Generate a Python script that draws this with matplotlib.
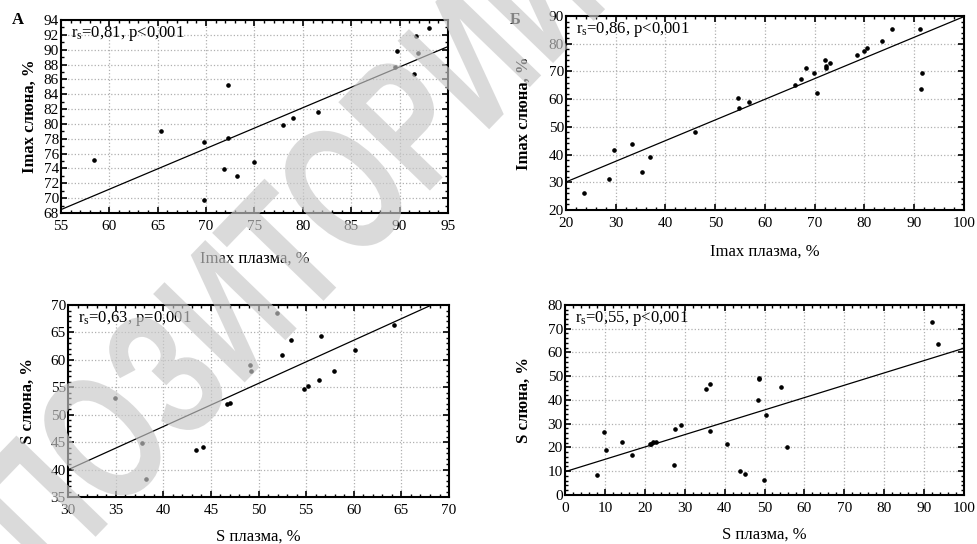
import matplotlib
matplotlib.use("Agg")
import matplotlib.pyplot as plt
from matplotlib.ticker import MultipleLocator
from matplotlib.textpath import TextPath
from matplotlib.patches import PathPatch
from matplotlib.font_manager import FontProperties
from matplotlib.transforms import Affine2D

plt.rcParams['font.family'] = ['Liberation Serif', 'DejaVu Serif']
plt.rcParams['mathtext.fontset'] = 'custom'
plt.rcParams['mathtext.rm'] = 'Liberation Serif'
plt.rcParams['mathtext.default'] = 'regular'

# Panel A: Imax plasma vs Imax saliva
a_x = [58.4, 65.3, 69.8, 69.8, 72.3, 72.3, 71.9, 73.2, 75.0, 78.0, 79.0, 81.6,
       89.5, 89.7, 91.5, 91.7, 91.9, 93.0]
a_y = [75.1, 79.1, 77.6, 69.8, 85.3, 78.1, 73.9, 73.0, 74.9, 79.8, 80.8, 81.6,
       87.6, 89.8, 86.7, 91.8, 89.6, 92.9]
a_fit = [38.26, 0.549]

# Panel B: Imax plasma vs Imax saliva
b_x = [23.7, 28.7, 29.6, 33.3, 35.3, 36.8, 45.9, 54.5, 54.7, 56.7, 66.1, 67.3,
       68.3, 69.8, 70.4, 72.1, 72.3, 72.3, 73.1, 78.4, 79.8, 80.6, 83.5, 85.5,
       91.2, 91.3, 91.6]
b_y = [26.0, 31.1, 41.8, 43.7, 33.7, 39.2, 48.3, 60.5, 56.7, 59.1, 65.0, 67.1,
       71.2, 69.6, 62.1, 74.1, 72.0, 71.1, 73.2, 75.8, 77.5, 78.6, 80.9, 85.3,
       85.3, 63.5, 69.6]
b_fit = [15.19, 0.746]

# Panel C: S plasma vs S saliva
c_x = [34.9, 37.8, 38.2, 43.4, 44.2, 46.7, 47.0, 49.1, 49.2, 51.9, 52.5, 53.4,
       54.8, 55.2, 56.3, 56.6, 57.9, 60.1, 64.2]
c_y = [53.1, 44.8, 38.3, 43.5, 44.2, 51.9, 52.2, 59.0, 58.0, 68.6, 60.8, 63.6,
       54.7, 55.2, 56.3, 64.3, 58.0, 61.8, 66.4]
c_fit = [16.36, 0.787]

# Panel D: S plasma vs S saliva
d_x = [8.1, 9.7, 10.4, 14.4, 16.9, 21.2, 21.5, 22.1, 22.9, 27.3, 27.6, 29.1,
       35.3, 36.4, 36.4, 40.7, 43.8, 45.0, 48.4, 48.7, 48.7, 49.8, 50.3, 54.2,
       55.6, 91.9, 93.6]
d_y = [8.4, 26.4, 18.9, 22.2, 17.0, 21.6, 21.3, 22.2, 22.5, 12.6, 27.9, 29.6,
       44.8, 46.6, 26.9, 21.6, 10.0, 9.0, 40.1, 49.3, 48.7, 6.2, 33.7, 45.5,
       20.1, 72.7, 63.4]
d_fit = [9.8, 0.52]

fig = plt.figure(figsize=(9.77, 5.44), dpi=100)

panels = [
    # rect, x, y, fit, xlim, ylim, xmaj, xmin, ymaj, ymin, xlabel, ylabel, note, xpad, ypad
    ([0.0624, 0.6085, 0.3961, 0.3548], a_x, a_y, a_fit, (55, 95), (68, 94), 5, 1, 2, 1,
     'Imax плазма, %', 'Imax слюна, %', 'r$_{s}$=0,81, p<0,001', 13, 4),
    ([0.5793, 0.6140, 0.4074, 0.3566], b_x, b_y, b_fit, (20, 100), (20, 90), 10, 2, 10, 2,
     'Imax плазма, %', 'Imax слюна, %', 'r$_{s}$=0,86, p<0,001', 10, 12),
    ([0.0696, 0.0864, 0.3900, 0.3529], c_x, c_y, c_fit, (30, 70), (35, 70), 5, 1, 5, 1,
     'S плазма, %', 'S слюна, %', 'r$_{s}$=0,63, p=0,001', 8.5, 10.5),
    ([0.5783, 0.0901, 0.4084, 0.3493], d_x, d_y, d_fit, (0, 100), (0, 80), 10, 2, 10, 2,
     'S плазма, %', 'S слюна, %', 'r$_{s}$=0,55, p<0,001', 8.5, 11.5),
]

for (rect, xs, ys, fit, xlim, ylim, xmaj, xmin, ymaj, ymin,
     xlabel, ylabel, note, xpad, ypad) in panels:
    ax = fig.add_axes(rect)
    ax.set_xlim(*xlim)
    ax.set_ylim(*ylim)
    ax.xaxis.set_major_locator(MultipleLocator(xmaj))
    ax.xaxis.set_minor_locator(MultipleLocator(xmin))
    ax.yaxis.set_major_locator(MultipleLocator(ymaj))
    ax.yaxis.set_minor_locator(MultipleLocator(ymin))
    ax.grid(True, which='major', linestyle=':', color='#b0b0b0', linewidth=0.9)
    ax.tick_params(which='both', direction='in', top=True, right=True,
                   labelsize=11, colors='black')
    ax.tick_params(which='major', length=4, width=1.2)
    ax.tick_params(which='minor', length=2.5, width=1.0)
    ax.tick_params(axis='y', pad=1.5)
    ax.tick_params(axis='x', pad=5)
    for s in ax.spines.values():
        s.set_linewidth(1.5)
    ax.axline((0, fit[0]), slope=fit[1], color='black', linewidth=0.9)
    ax.plot(xs, ys, 'o', color='black', markersize=2.3)
    ax.set_xlabel(xlabel, fontsize=12, labelpad=xpad)
    ax.set_ylabel(ylabel, fontsize=12, fontweight='bold', labelpad=ypad)
    ax.text(0.025, 0.93, note, transform=ax.transAxes, fontsize=12,
            ha='left', va='center')

fig.text(18 / 977, 1 - 20 / 544, 'А', fontsize=12, fontweight='bold',
         ha='center', va='center')
fig.text(515 / 977, 1 - 20 / 544, 'Б', fontsize=12, fontweight='bold',
         ha='center', va='center')

# repository watermark: tall narrow letters, drawn as a path in pixel units
wm_path = TextPath((0, 0), 'ПОЗИТОРИЙ', size=1,
                   prop=FontProperties(family='Liberation Sans', weight='bold'))
wm_trans = Affine2D().scale(128, 185).rotate_deg(46).translate(50, -40)
wm = PathPatch(wm_path, transform=wm_trans, facecolor='#c8c8c8',
               edgecolor='none', alpha=0.66, zorder=10)
fig.add_artist(wm)

fig.savefig('out.png', dpi=100)
